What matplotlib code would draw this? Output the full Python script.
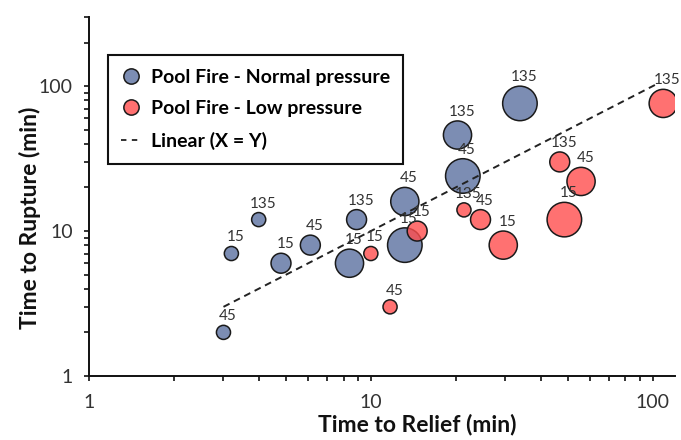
import matplotlib
matplotlib.use("Agg")
import matplotlib.pyplot as plt
from matplotlib.lines import Line2D
import numpy as np

plt.rcParams['font.family'] = ['Lato', 'DejaVu Sans']

# Pool Fire - Normal pressure
blue_x = [3.0, 3.2, 4.0, 4.8, 6.1, 8.9, 8.4, 13.2, 13.2, 20.3, 21.2, 33.8]
blue_y = [2.0, 7.0, 12.0, 6.0, 8.0, 12.0, 6.0, 16.0, 8.0, 46.0, 24.0, 76.0]
blue_size = [1, 1, 1, 2, 2, 2, 4, 4, 6, 4, 6, 6]
blue_labels = ["45", "15", "135", "15", "45", "135", "15", "45", "15", "135", "45", "135"]

# Pool Fire - Low pressure
red_x = [10.0, 14.6, 11.7, 21.4, 24.5, 29.5, 46.8, 55.7, 48.6, 109.0]
red_y = [7.0, 10.0, 3.0, 14.0, 12.0, 8.0, 30.0, 22.0, 12.0, 76.0]
red_size = [1, 2, 1, 1, 2, 4, 2, 4, 6, 4]
red_labels = ["15", "15", "45", "135", "45", "15", "135", "45", "15", "135"]

# Linear (X = Y)
line_x = [3.0, 105.0]
line_y = [3.0, 105.0]

fig = plt.figure(figsize=(6.81, 4.40), dpi=100)
ax = fig.add_axes([89/681, 1-376/440, 586/681, 359/440])

S = 103.0
blue_c = '#7C8DB3'
red_c = (1.0, 0.30, 0.30, 0.80)
edge = '#1a1a1a'

ax.scatter(blue_x, blue_y, s=np.array(blue_size)*S, color=blue_c, edgecolors=edge,
           linewidths=1.1, zorder=3)
ax.scatter(red_x, red_y, s=np.array(red_size)*S, color=red_c, edgecolors=edge,
           linewidths=1.1, zorder=4)
ax.plot(line_x, line_y, linestyle=(0, (3.5, 2.5)), color='#222222', lw=1.4, zorder=5)

def put_labels(xs, ys, sizes, labels):
    for x, y, sz, lab in zip(xs, ys, sizes, labels):
        r_pt = np.sqrt(sz*S)/2
        ax.annotate(lab, (x, y), xytext=(3, r_pt + 6.5), textcoords='offset points',
                    ha='center', va='center', fontsize=11, color='#333333', zorder=6)

put_labels(blue_x, blue_y, blue_size, blue_labels)
put_labels(red_x, red_y, red_size, red_labels)

ax.set_xscale('log')
ax.set_yscale('log')
ax.set_xlim(1, 120)
ax.set_ylim(1, 300)

from matplotlib.ticker import LogLocator, FixedLocator, NullFormatter, FuncFormatter
fmt = FuncFormatter(lambda v, p: f"{v:g}")
ax.xaxis.set_major_locator(FixedLocator([1, 10, 100]))
ax.yaxis.set_major_locator(FixedLocator([1, 10, 100]))
ax.xaxis.set_major_formatter(fmt)
ax.yaxis.set_major_formatter(fmt)
ax.xaxis.set_minor_locator(LogLocator(base=10, subs=np.arange(2, 10)))
ax.yaxis.set_minor_locator(LogLocator(base=10, subs=np.arange(2, 10)))
ax.xaxis.set_minor_formatter(NullFormatter())
ax.yaxis.set_minor_formatter(NullFormatter())

for sp in ['top', 'right']:
    ax.spines[sp].set_visible(False)
for sp in ['left', 'bottom']:
    ax.spines[sp].set_linewidth(1.4)
    ax.spines[sp].set_color('#111111')

ax.tick_params(which='both', direction='out', length=3.8, width=1.2, color='#111111')
ax.tick_params(which='major', labelsize=14, colors='#111111', labelcolor='#333333')
ax.tick_params(axis='x', which='major', pad=9)
ax.tick_params(axis='y', which='major', pad=8)

ax.set_xlabel('Time to Relief (min)', fontsize=16.5, fontweight='bold', color='#111111')
ax.set_ylabel('Time to Rupture (min)', fontsize=16.5, fontweight='bold', color='#111111')
ax.xaxis.label.set_va('center')
ax.yaxis.label.set_va('center')
ax.xaxis.set_label_coords(0.561, -0.136)
ax.yaxis.set_label_coords(-0.1007, 0.44)

handles = [
    Line2D([], [], marker='o', linestyle='none', markersize=11, markerfacecolor=blue_c,
           markeredgecolor=edge, markeredgewidth=1.1),
    Line2D([], [], marker='o', linestyle='none', markersize=11, markerfacecolor='#FF7070',
           markeredgecolor=edge, markeredgewidth=1.1),
    Line2D([], [], linestyle=(0, (3, 3)), color='#222222', lw=1.3),
]
leg = ax.legend(handles, ['Pool Fire - Normal pressure', 'Pool Fire - Low pressure', 'Linear (X = Y)'],
                loc='upper left', bbox_to_anchor=(0.032, 0.894), borderaxespad=0,
                fancybox=False, edgecolor='#111111', framealpha=1,
                prop={'weight': 'bold', 'size': 14}, handlelength=1.0, handletextpad=0.5,
                labelspacing=0.75, borderpad=0.7)
leg.get_frame().set_linewidth(1.5)

fig.savefig('out.png', dpi=100)
